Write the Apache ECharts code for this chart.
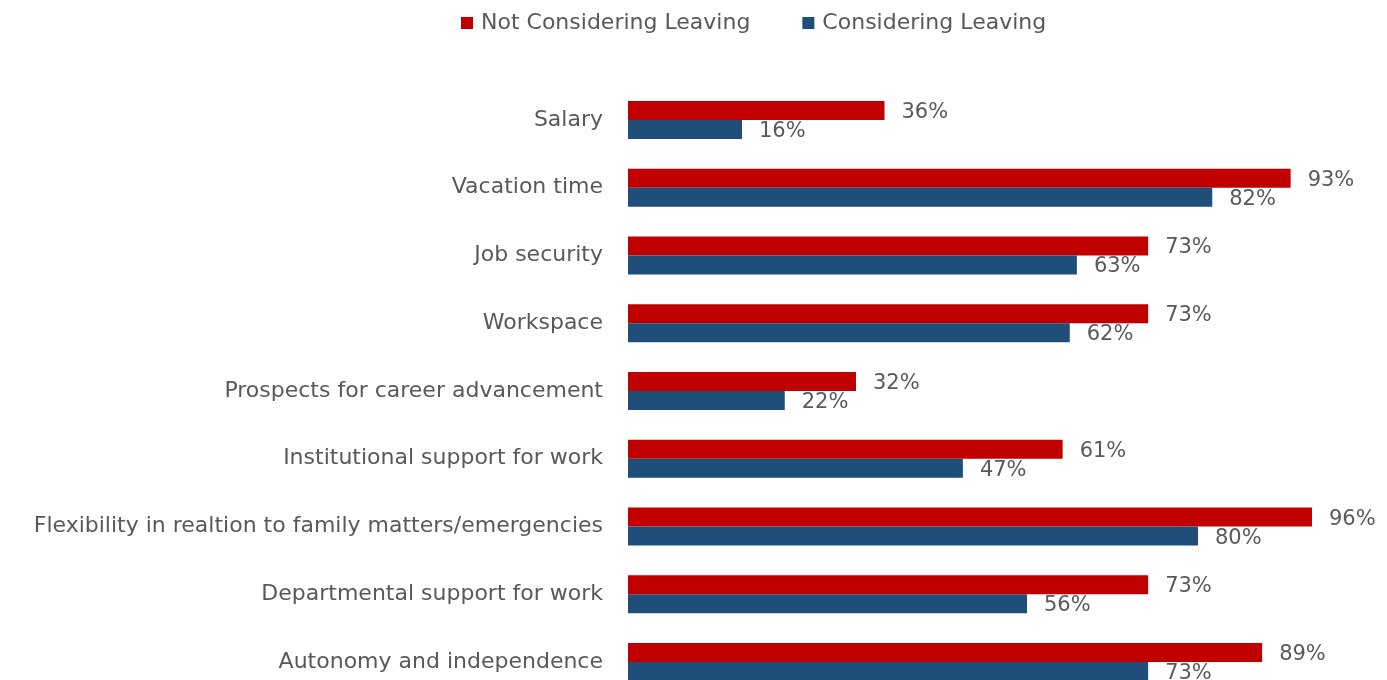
<!DOCTYPE html>
<html>
<head>
<meta charset="utf-8">
<script src="https://cdn.jsdelivr.net/npm/echarts@6/dist/echarts.min.js"></script>
<style>
  html, body { margin: 0; padding: 0; background: #fff; overflow: hidden; }
  #chart { width: 1387px; height: 720px; }
</style>
</head>
<body>
<div id="chart"></div>
<script>
// Workplace factors, share of respondents satisfied (%)
const categories = [
  'Salary',
  'Vacation time',
  'Job security',
  'Workspace',
  'Prospects for career advancement',
  'Institutional support for work',
  'Flexibility in realtion to family matters/emergencies',
  'Departmental support for work',
  'Autonomy and independence'
];
const notConsidering = [36, 93, 73, 73, 32, 61, 96, 73, 89];
const considering = [16, 82, 63, 62, 22, 47, 80, 56, 73];
const seriesNames = ['Not Considering Leaving', 'Considering Leaving'];

const FONT = 'DejaVu Sans';
const TEXT = '#595959';

const chart = echarts.init(document.getElementById('chart'));

const labelStyle = {
  show: true,
  position: 'right',
  distance: 17,
  offset: [0, 2],
  formatter: p => p.value + '%',
  color: TEXT,
  fontFamily: FONT,
  fontSize: 21
};

chart.setOption({
  animation: false,
  textStyle: { fontFamily: FONT },
  legend: {
    top: 7,
    left: 456,
    itemWidth: 12,
    itemHeight: 12,
    itemGap: 52,
    icon: 'rect',
    textStyle: { color: TEXT, fontSize: 22, fontFamily: FONT, padding: [0, 0, 0, 3] }
  },
  grid: {
    left: 628,
    top: 86,
    width: 712.5,
    height: 610
  },
  xAxis: {
    type: 'value',
    min: 0,
    max: 100,
    show: false
  },
  yAxis: {
    type: 'category',
    data: categories,
    inverse: true,
    axisLine: { show: false },
    axisTick: { show: false },
    axisLabel: {
      margin: 25,
      color: TEXT,
      fontSize: 22,
      fontFamily: FONT
    }
  },
  series: [
    {
      name: seriesNames[0],
      type: 'bar',
      data: notConsidering,
      barWidth: 19,
      barGap: '0%',
      itemStyle: { color: '#C00000' },
      label: labelStyle
    },
    {
      name: seriesNames[1],
      type: 'bar',
      data: considering,
      barWidth: 19,
      barGap: '0%',
      itemStyle: { color: '#1F4E79' },
      label: labelStyle
    }
  ]
});
</script>
</body>
</html>
